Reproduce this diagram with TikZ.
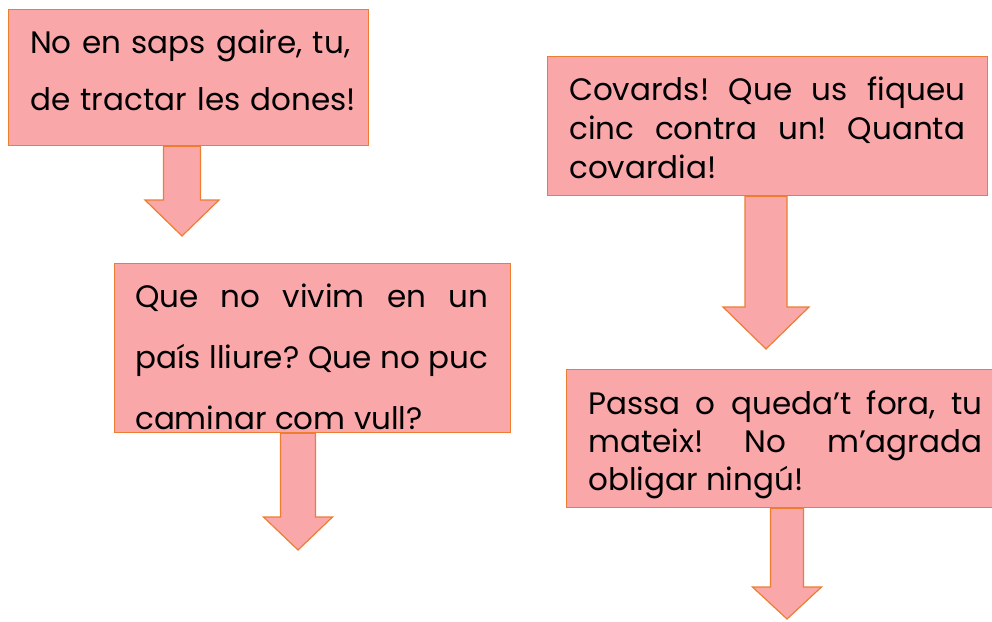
\documentclass[tikz,border=0pt]{standalone}
\usepackage{fontspec}
\setmainfont{Poppins}
\usetikzlibrary{calc}
\hbadness=10000
\frenchspacing
\definecolor{boxfill}{RGB}{250,167,170}
\definecolor{boxline}{RGB}{237,125,49}
\tikzset{
  bubble/.style={draw=boxline,fill=boxfill,line width=1.2pt,anchor=north west,inner sep=0pt},
  speech/.style={anchor=north west,inner sep=0pt,font=\fontsize{31}{#1}\selectfont},
  blockarr/.style={draw=boxline,fill=boxfill,line width=1.2pt,line join=miter}
}
% block arrow: start node, tip, half shaft, half head, head length
\newcommand{\blockarrow}[5]{%
  \draw[blockarr] let \p1=(#1), \p2=(#2) in
    (\x2-#3,\y1) -- (\x2-#3,\y2+#5) -- (\x2-#4,\y2+#5) -- (\x2,\y2)
    -- (\x2+#4,\y2+#5) -- (\x2+#3,\y2+#5) -- (\x2+#3,\y1) -- cycle;}

\begin{document}
\begin{tikzpicture}[x=1pt,y=-1pt]
\useasboundingbox (0,0) rectangle (992,621);
% boxes
\node[bubble,minimum width=360,minimum height=136] (box1) at (8,9) {};
\node[bubble,minimum width=396,minimum height=169] (box2) at (114,263) {};
\node[bubble,minimum width=440,minimum height=139] (box3) at (547,56) {};
\node[bubble,minimum width=440,minimum height=138] (box4) at (566,369) {};
% texts
\node[speech=57,text width=340,align=left] (txt1) at ($(box1.north west)+(22,0)$)
  {\rule{0pt}{44pt}No en saps gaire, tu,\\de tractar les dones!};
\begin{scope}
\clip (box2.north west) rectangle ($(box2.south east)+(0,-1.5)$);
\node[speech=61,text width=353,align=justify] (txt2) at ($(box2.north west)+(21,0)$)
  {\rule{0pt}{44pt}Que no vivim en un\linebreak país lliure? Que no puc\linebreak caminar com vull?};
\end{scope}
\node[speech=39,text width=396,align=justify] (txt3) at ($(box3.north west)+(22,0)$)
  {\rule{0pt}{44pt}Covards! Que us fiqueu\linebreak cinc contra un! Quanta\linebreak covardia!};
\node[speech=38,text width=394,align=justify] (txt4) at ($(box4.north west)+(22,0)$)
  {\rule{0pt}{45pt}Passa o queda’t fora, tu\linebreak mateix! No m’agrada\linebreak obligar ningú!};
% arrows
\coordinate (tip1) at (182,236);
\coordinate (tip2) at (298,550);
\coordinate (tip3) at (766,349);
\coordinate (tip4) at (787,619);
\blockarrow{box1.south}{tip1}{18.5pt}{37pt}{36pt}
\blockarrow{box2.south}{tip2}{17.5pt}{34.5pt}{33pt}
\blockarrow{box3.south}{tip3}{21pt}{43pt}{42pt}
\blockarrow{box4.south}{tip4}{16.5pt}{34.5pt}{32pt}
\end{tikzpicture}
\end{document}
